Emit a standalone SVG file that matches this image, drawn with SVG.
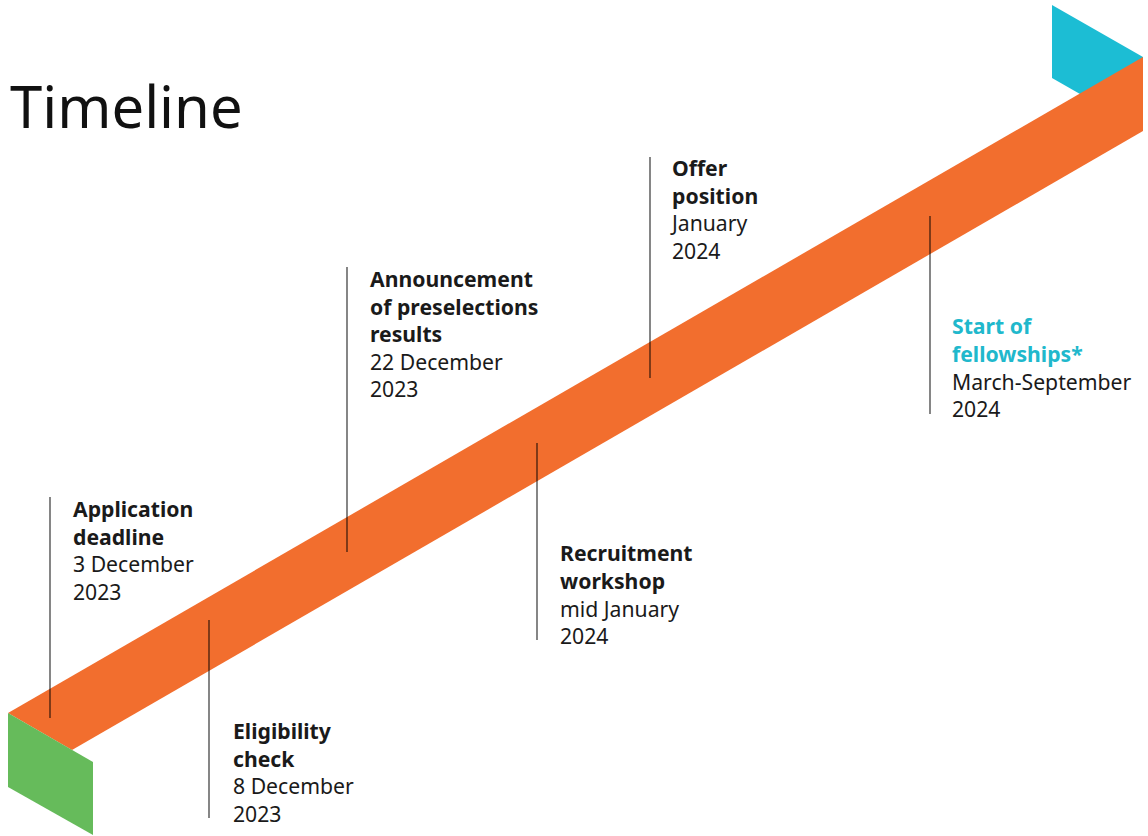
<svg xmlns="http://www.w3.org/2000/svg" width="1148" height="836" viewBox="0 0 1148 836">
<style>
text{font-family:"Noto Sans","Open Sans","Liberation Sans",sans-serif;font-size:21.2px;fill:#1a1a1a}
.b{font-weight:700}
.t{fill:#20b8cc}
.ln{stroke:#000;stroke-opacity:0.6;stroke-width:1.6}
</style>
<rect width="1148" height="836" fill="#fff"/>
<g id="band">
<polygon points="1052,5 1143,57 1143,130 1052,78" fill="#1cbdd4"/>
<polygon points="8,713 1143,57 1143,131 72,750" fill="#f26e2e"/>
<polygon points="8,713 93,762 93,835 8,787" fill="#66bb5b"/>
</g>
<text x="10" y="128" style="font-size:58px;font-weight:400;fill:#111">Timeline</text>
<g id="connectors">
<line class="ln" x1="50" y1="497" x2="50" y2="718"/>
<line class="ln" x1="209" y1="620" x2="209" y2="818"/>
<line class="ln" x1="347" y1="267" x2="347" y2="552"/>
<line class="ln" x1="537" y1="443" x2="537" y2="640"/>
<line class="ln" x1="650" y1="157" x2="650" y2="378"/>
<line class="ln" x1="930" y1="216" x2="930" y2="414"/>
</g>
<g id="n1"><text x="73" y="517"><tspan class="b">Application</tspan><tspan class="b" x="73" dy="28">deadline</tspan><tspan x="73" dy="27">3 December</tspan><tspan x="73" dy="28">2023</tspan></text></g>
<g id="n2"><text x="233" y="739"><tspan class="b">Eligibility</tspan><tspan class="b" x="233" dy="28">check</tspan><tspan x="233" dy="27">8 December</tspan><tspan x="233" dy="28">2023</tspan></text></g>
<g id="n3"><text x="370" y="287"><tspan class="b">Announcement</tspan><tspan class="b" x="370" dy="28">of preselections</tspan><tspan class="b" x="370" dy="27">results</tspan><tspan x="370" dy="28">22 December</tspan><tspan x="370" dy="27">2023</tspan></text></g>
<g id="n4"><text x="560" y="561"><tspan class="b">Recruitment</tspan><tspan class="b" x="560" dy="28">workshop</tspan><tspan x="560" dy="28">mid January</tspan><tspan x="560" dy="27">2024</tspan></text></g>
<g id="n5"><text x="672" y="176"><tspan class="b">Offer</tspan><tspan class="b" x="672" dy="28">position</tspan><tspan x="672" dy="27">January</tspan><tspan x="672" dy="28">2024</tspan></text></g>
<g id="n6"><text x="952" y="334"><tspan class="b t">Start of</tspan><tspan class="b t" x="952" dy="28">fellowships*</tspan><tspan x="952" dy="28">March-September</tspan><tspan x="952" dy="27">2024</tspan></text></g>
</svg>
